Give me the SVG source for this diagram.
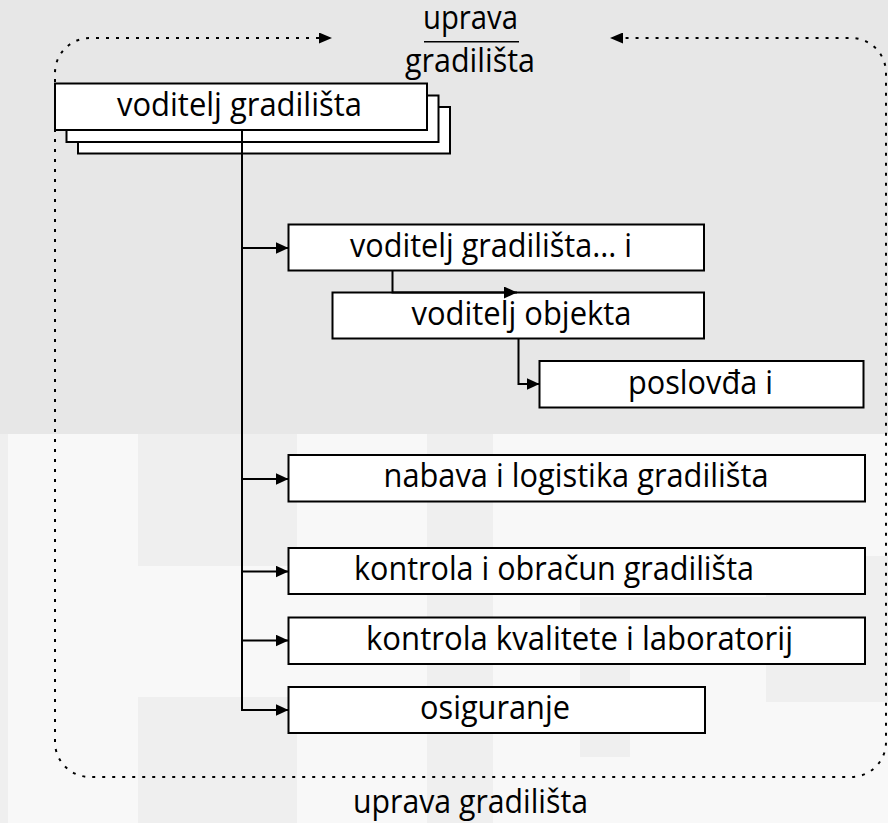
<svg xmlns="http://www.w3.org/2000/svg" width="888" height="823" viewBox="0 0 888 823">
<style>
.box{fill:#fff;stroke:#000;stroke-width:2}
.lbl{font-family:"Open Sans","Noto Sans","Liberation Sans",sans-serif;font-size:33px;fill:#000}
.ttl{font-family:"Open Sans","Noto Sans","Liberation Sans",sans-serif;font-size:32px;fill:#000}
.con{fill:none;stroke:#000;stroke-width:2}
.dot{fill:none;stroke:#000;stroke-width:2;stroke-dasharray:3 7}
.bgA{fill:#e7e7e7}
.bgG{fill:#efefef}
.bgL{fill:#f8f8f8}
</style>
<defs>
<marker id="ah" markerUnits="userSpaceOnUse" viewBox="0 0 13 12" refX="13" refY="6" markerWidth="13" markerHeight="12" orient="auto">
<path d="M0,0 L13,6 L0,12 z" fill="#000"/>
</marker>
<marker id="ahd" markerUnits="userSpaceOnUse" viewBox="0 0 13 11" refX="0" refY="5.5" markerWidth="13" markerHeight="11" orient="auto-start-reverse">
<path d="M0,0 L13,5.5 L0,11 z" fill="#000"/>
</marker>
</defs>
<g id="background">
<rect class="bgA" x="0" y="0" width="888" height="823"/>
<rect class="bgG" x="0" y="434" width="888" height="389"/>
<rect class="bgL" x="8" y="434" width="130" height="389"/>
<rect class="bgL" x="138" y="566" width="159" height="131"/>
<rect class="bgL" x="297" y="434" width="130" height="389"/>
<rect class="bgL" x="493" y="434" width="395" height="122"/>
<rect class="bgL" x="493" y="556" width="273" height="267"/>
<rect class="bgL" x="766" y="702" width="122" height="121"/>
<rect class="bgG" x="580" y="597" width="186" height="20"/>
<rect class="bgG" x="580" y="617" width="50" height="140"/>
</g>
<g id="boundary">
<path class="dot" d="M319 38 H90 A35 35 0 0 0 55 73 V742 A35 35 0 0 0 90 777 H851 A35 35 0 0 0 886 742 V73 A35 35 0 0 0 851 38 H623" marker-start="url(#ahd)" marker-end="url(#ahd)"/>
</g>
<g id="title">
<text class="ttl" x="423" y="28.5" textLength="95" lengthAdjust="spacingAndGlyphs">uprava</text>
<line x1="424" y1="41.7" x2="519" y2="41.7" stroke="#000" stroke-width="1.6"/>
<text class="ttl" x="405" y="71.5" textLength="130" lengthAdjust="spacingAndGlyphs">gradilišta</text>
</g>
<g id="n-voditelj-gradilista">
<rect class="box" x="78" y="107" width="372" height="46.5"/>
<rect class="box" x="66.5" y="95.5" width="372" height="46.5"/>
<rect class="box" x="55" y="83.5" width="372" height="46.5"/>
<text class="lbl" x="117" y="115.5" textLength="245" lengthAdjust="spacingAndGlyphs">voditelj gradilišta</text>
</g>
<g id="n-voditelj-gradilista-i">
<rect class="box" x="288.5" y="224.5" width="415.5" height="46"/>
<text class="lbl" x="350" y="256.5" textLength="282" lengthAdjust="spacingAndGlyphs">voditelj gradilišta... i</text>
</g>
<g id="n-voditelj-objekta">
<rect class="box" x="332.5" y="292.5" width="371.5" height="46"/>
<text class="lbl" x="411.5" y="325" textLength="220" lengthAdjust="spacingAndGlyphs">voditelj objekta</text>
</g>
<g id="n-poslovda">
<rect class="box" x="539.5" y="361" width="324" height="46.5"/>
<text class="lbl" x="628" y="393.5" textLength="145" lengthAdjust="spacingAndGlyphs">poslovđa i</text>
</g>
<g id="n-nabava">
<rect class="box" x="288.5" y="455" width="576.5" height="46.5"/>
<text class="lbl" x="383.5" y="487" textLength="385" lengthAdjust="spacingAndGlyphs">nabava i logistika gradilišta</text>
</g>
<g id="n-kontrola-obracun">
<rect class="box" x="288.5" y="548" width="576.5" height="46"/>
<text class="lbl" x="354" y="580" textLength="400" lengthAdjust="spacingAndGlyphs">kontrola i obračun gradilišta</text>
</g>
<g id="n-kontrola-kvalitete">
<rect class="box" x="288.5" y="617.5" width="576.5" height="46.5"/>
<text class="lbl" x="366" y="649.5" textLength="427" lengthAdjust="spacingAndGlyphs">kontrola kvalitete i laboratorij</text>
</g>
<g id="n-osiguranje">
<rect class="box" x="288.5" y="687" width="416.5" height="46"/>
<text class="lbl" x="420" y="719" textLength="150" lengthAdjust="spacingAndGlyphs">osiguranje</text>
</g>
<g id="connectors">
<path class="con" d="M242 130 V710 H288.5" marker-end="url(#ah)"/>
<path class="con" d="M242 248 H288.5" marker-end="url(#ah)"/>
<path class="con" d="M242 479 H288.5" marker-end="url(#ah)"/>
<path class="con" d="M242 571.5 H288.5" marker-end="url(#ah)"/>
<path class="con" d="M242 640.5 H288.5" marker-end="url(#ah)"/>
<path class="con" d="M392.5 270.5 V292.5 H517" marker-end="url(#ah)"/>
<path class="con" d="M518.5 338.5 V384 H539.5" marker-end="url(#ah)"/>
</g>
<g id="footer">
<text class="ttl" x="353" y="813" textLength="235" lengthAdjust="spacingAndGlyphs">uprava gradilišta</text>
</g>
</svg>
